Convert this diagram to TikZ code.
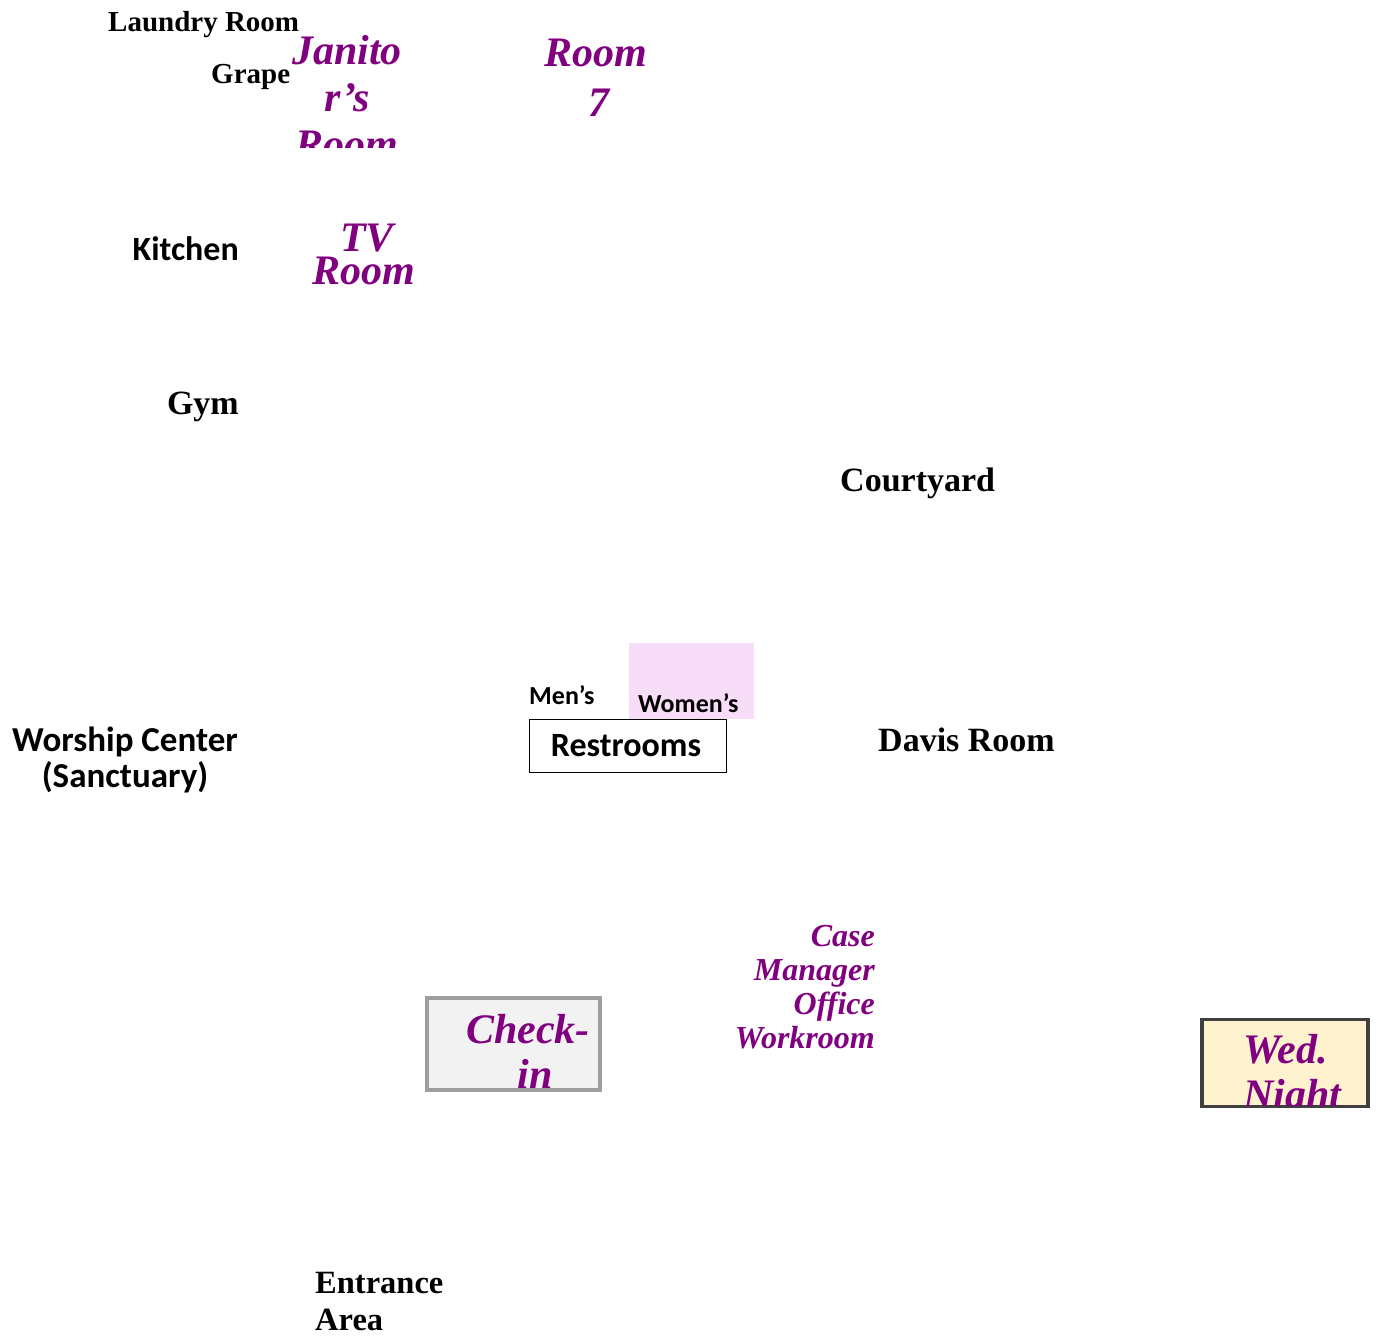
\documentclass[tikz,border=0pt]{standalone}
\usepackage{fontspec}
\setmainfont{Liberation Serif}
\newfontfamily\calfont{Carlito}
\definecolor{plum}{HTML}{800080}
\definecolor{pinkfill}{HTML}{F8DDF8}
\definecolor{checkfill}{HTML}{F2F2F2}
\definecolor{checkline}{HTML}{9E9E9E}
\definecolor{wedfill}{HTML}{FFF3CF}
\definecolor{wedline}{HTML}{404040}
\begin{document}
\begin{tikzpicture}[x=1pt,y=-1pt,
  serlab/.style={inner sep=0pt,font=\bfseries\fontsize{29}{33}\selectfont},
  bigser/.style={inner sep=0pt,font=\bfseries\fontsize{34}{37}\selectfont},
  callab/.style={inner sep=0pt,font=\calfont\bfseries\fontsize{34}{35}\selectfont},
  smallcal/.style={inner sep=0pt,font=\calfont\bfseries\fontsize{26}{28}\selectfont},
  room/.style={inner sep=0pt,text=plum,font=\bfseries\itshape\fontsize{42}{47}\selectfont},
  roomsmall/.style={inner sep=0pt,text=plum,font=\bfseries\itshape\fontsize{32}{34}\selectfont}]
\useasboundingbox (0,0) rectangle (1379,1343);
% top left
\node[serlab,anchor=base west] (laundry) at (108,32) {Laundry Room};
\node[serlab,anchor=base west] (grape) at (211,84) {Grape};
\begin{scope}
\clip (280,0) rectangle (420,148);
\node[room,align=center,anchor=base] (janitor) at (347,159) {Janito\\r’s\\Room};
\end{scope}
\node[room,align=center,anchor=base,font=\bfseries\itshape\fontsize{42}{50}\selectfont] (room7) at (596,117) {Room\\\hspace{5pt}7};
\node[callab,anchor=base east] (kitchen) at (239,261) {Kitchen};
\node[room,align=center,anchor=base,font=\bfseries\itshape\fontsize{42}{33}\selectfont] (tv) at (364,284) {\hspace{6pt}TV\\Room};
\node[bigser,anchor=base east] (gym) at (239,414) {Gym};
\node[bigser,anchor=base west] (court) at (840,491) {Courtyard};
% restrooms
\fill[pinkfill] (629,643) rectangle (754,719);
\node[smallcal,anchor=base west] (men) at (529,704) {Men’s};
\node[smallcal,anchor=base west] (women) at (638,712) {Women’s};
\node[draw=black,line width=1pt,minimum width=197pt,minimum height=53pt,inner sep=0pt,anchor=north west] (rest) at (529,719) {};
\node[callab,anchor=base] (restl) at (626,756) {Restrooms};
\node[bigser,anchor=base west] (davis) at (878,751) {Davis Room};
\node[callab,align=center,anchor=base,font=\calfont\bfseries\fontsize{35}{36}\selectfont] (worship) at (125,787) {Worship Center\\(Sanctuary)};
% check-in
\node[draw=checkline,fill=checkfill,line width=3.5pt,minimum width=173pt,minimum height=92pt,inner sep=0pt] (checkbox) at (513.5,1044) {};
\begin{scope}
\clip (427,998) rectangle (600,1090);
\node[room,align=center,anchor=base,font=\bfseries\itshape\fontsize{42}{45}\selectfont] (check) at (528,1088) {Check-\\\hspace{14pt}in};
\end{scope}
\node[roomsmall,align=right,anchor=base east] (case) at (875,1048) {Case\\Manager\\Office\\Workroom};
% wed night
\node[draw=wedline,fill=wedfill,line width=3.5pt,minimum width=166pt,minimum height=87pt,inner sep=0pt] (wedbox) at (1285,1063) {};
\begin{scope}
\clip (1202,1019) rectangle (1368,1105);
\node[room,align=left,anchor=base west,font=\bfseries\itshape\fontsize{42}{45}\selectfont] (wed) at (1243,1108) {Wed.\\Night};
\end{scope}
\node[bigser,align=left,anchor=base west,font=\bfseries\fontsize{32.5}{37}\selectfont] (entr) at (315,1330) {Entrance\\Area};
\end{tikzpicture}
\end{document}
